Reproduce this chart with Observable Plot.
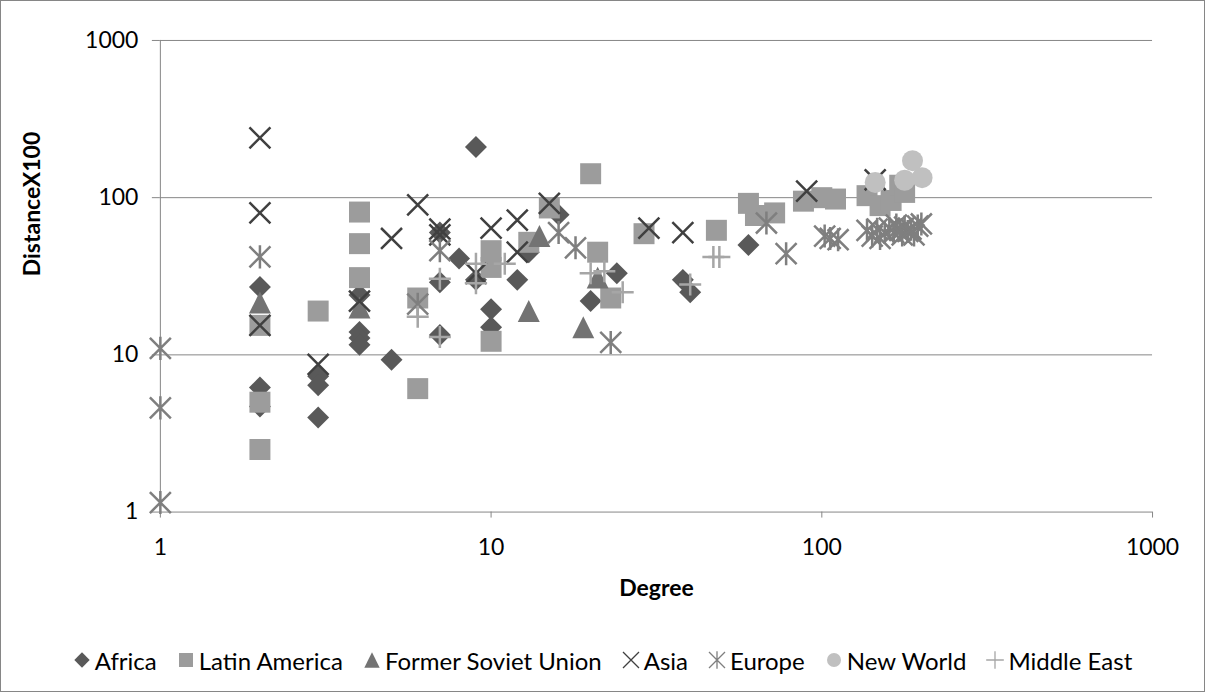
<!DOCTYPE html>
<html>
<head>
<meta charset="utf-8">
<script src="https://cdn.jsdelivr.net/npm/d3@7"></script>
<script src="https://cdn.jsdelivr.net/npm/@observablehq/plot@0.6"></script>
<style>
  html, body { margin: 0; padding: 0; background: #fff; }
  #wrap { position: relative; width: 1205px; height: 692px; box-sizing: border-box; border: 1px solid #868686; overflow: hidden; font-family: Lato, sans-serif; }
  #plot { position: absolute; left: -1px; top: -1px; }
  #legend { position: absolute; left: 0; top: 644px; width: 1203px; text-align: center; font-size: 24px; color: #000; white-space: nowrap; }
  #legend .item { display: inline-flex; align-items: center; margin: 0 10px; }
  #legend svg { margin-right: 4px; }
</style>
</head>
<body>
<div id="wrap"><div id="plot"></div><div id="legend"></div></div>
<script>
// ---- data: [Degree, DistanceX100] per region ----
const seriesNames = ["Africa", "Latin America", "Former Soviet Union", "Asia", "Europe", "New World", "Middle East"];
const africa = [[2,27],[2,6.2],[2,4.7],[3,7.3],[3,6.4],[3,4.0],[4,24],[4,14],[4,12.8],[4,11.6],[5,9.3],[7,60],[7,29],[7,13.4],[8,41],[9,210],[9,30],[10,19.5],[10,15],[12,30],[13,45],[16,78],[20,22],[24,33],[38,30],[40,25],[60,50]];
const latinAmerica = [[2,15.4],[2,5],[2,2.5],[3,19],[4,81],[4,51],[4,31],[6,23],[6,6.1],[10,46],[10,36],[10,12.2],[13,52],[15,86],[20,142],[21,45],[23,23],[29,59],[48,62],[60,92],[63,77],[72,80],[88,95],[100,100],[110,98],[137,103],[150,89],[162,96],[172,120],[178,108]];
const formerSovietUnion = [[2,21.5],[4,20],[13,19],[14,57],[19,15],[21,31]];
const asia = [[2,240],[2,80],[2,15.4],[3,8.7],[4,22],[5,55],[6,90],[7,63],[7,58],[9,33],[10,64],[12,72],[12,45],[15,92],[30,64],[38,60],[90,110],[145,130]];
const europe = [[1,11],[1,4.6],[1,1.15],[2,42],[6,21],[7,46],[16,60],[18,48],[23,12],[68,69],[78,44],[102,57],[106,55],[112,54],[137,62],[142,57],[147,63],[150,55],[155,60],[160,64],[165,60],[168,67],[172,62],[175,58],[178,65],[182,61],[186,63],[190,58],[195,66],[200,68]];
const newWorld = [[145,125],[178,129],[188,172],[201,134]];
const middleEast = [[6,17.5],[7,30.5],[7,13],[9,38],[9,28.5],[11,38],[20,33],[22,34],[25,25],[40,28],[47,42],[49,42]];
const xTicks = [1, 10, 100, 1000];
const yTicks = [1, 10, 100, 1000];
const xLabel = "Degree";
const yLabel = "DistanceX100";

// ---- Excel-like marker shapes (size -> half extent R) ----
const R = s => Math.sqrt(s / Math.PI);
const sym = {
  diamond: {draw(c, s) { const r = R(s) * 1.1; c.moveTo(0,-r); c.lineTo(r,0); c.lineTo(0,r); c.lineTo(-r,0); c.closePath(); }},
  square: {draw(c, s) { const r = R(s); c.moveTo(-r,-r); c.lineTo(r,-r); c.lineTo(r,r); c.lineTo(-r,r); c.closePath(); }},
  triangle: {draw(c, s) { const r = R(s) * 1.1; c.moveTo(0,-r); c.lineTo(r,r); c.lineTo(-r,r); c.closePath(); }},
  times: {draw(c, s) { const r = R(s); c.moveTo(-r,-r); c.lineTo(r,r); c.moveTo(-r,r); c.lineTo(r,-r); }},
  asterisk: {draw(c, s) { const r = R(s); c.moveTo(-r,-r); c.lineTo(r,r); c.moveTo(-r,r); c.lineTo(r,-r); c.moveTo(0,-r*1.1); c.lineTo(0,r*1.1); }},
  circle: {draw(c, s) { const r = R(s); c.moveTo(r,0); c.arc(0,0,r,0,2*Math.PI); }},
  plus: {draw(c, s) { const r = R(s) * 1.1; c.moveTo(-r,0); c.lineTo(r,0); c.moveTo(0,-r); c.lineTo(0,r); }}
};
const styles = [
  {data: africa, symbol: sym.diamond, fill: "#595959", r: 10},
  {data: latinAmerica, symbol: sym.square, fill: "#9c9c9c", r: 10.5},
  {data: formerSovietUnion, symbol: sym.triangle, fill: "#737373", r: 10},
  {data: asia, symbol: sym.times, stroke: "#404040", r: 10.5, sw: 2.5},
  {data: europe, symbol: sym.asterisk, stroke: "#7f7f7f", r: 10.5, sw: 2.5},
  {data: newWorld, symbol: sym.circle, fill: "#c0c0c0", r: 10.5},
  {data: middleEast, symbol: sym.plus, stroke: "#a6a6a6", r: 10, sw: 2.5}
];

const gridColor = "#868686";
const marks = [
  Plot.ruleY(yTicks.slice(1), {stroke: gridColor, strokeWidth: 1}),
  Plot.ruleY([yTicks[0]], {stroke: gridColor, strokeWidth: 1}),
  Plot.ruleX([xTicks[0]], {stroke: gridColor, strokeWidth: 1}),
  Plot.axisY({ticks: yTicks, tickFormat: d => String(d), tickSize: 8, tickPadding: 14, stroke: gridColor, fill: "#000", label: null}),
  Plot.axisX({ticks: xTicks, tickFormat: d => String(d), tickSize: 6, tickPadding: 21, stroke: gridColor, fill: "#000", label: null}),
  ...styles.map(s => Plot.dot(s.data, {
    x: d => d[0], y: d => d[1], symbol: s.symbol, r: s.r,
    fill: s.fill || "none", stroke: s.stroke || "none", strokeWidth: s.sw || 0
  })),
  Plot.text([yLabel], {frameAnchor: "left", dx: -128, rotate: -90, fontWeight: "bold", fill: "#000", fontSize: 23}),
  Plot.text([xLabel], {frameAnchor: "bottom", dy: 84, fontWeight: "bold", fill: "#000", fontSize: 23})
];

const chart = Plot.plot({
  width: 1205, height: 620,
  marginLeft: 160, marginRight: 52, marginTop: 40, marginBottom: 108,
  x: {type: "log", domain: [1, 1000]},
  y: {type: "log", domain: [1, 1000]},
  style: {fontFamily: "Lato, sans-serif", fontSize: "23px", background: "transparent", color: "#000"},
  marks
});
document.getElementById("plot").appendChild(chart);

// ---- legend ----
const legend = document.getElementById("legend");
styles.forEach((s, i) => {
  const item = document.createElement("span");
  item.className = "item";
  const sv = d3.create("svg").attr("width", 18).attr("height", 18).attr("viewBox", "-9 -9 18 18");
  const filled = s.symbol === sym.diamond || s.symbol === sym.square || s.symbol === sym.triangle || s.symbol === sym.circle;
  const scale = filled ? 7 : 8;
  sv.append("path")
    .attr("d", d3.symbol(s.symbol, Math.PI * scale * scale)())
    .attr("fill", s.fill || "none").attr("stroke", s.stroke || "none").attr("stroke-width", s.stroke ? 1.3 : 0);
  item.appendChild(sv.node());
  const t = document.createElement("span");
  t.textContent = seriesNames[i];
  item.appendChild(t);
  legend.appendChild(item);
});
</script>
</body>
</html>
